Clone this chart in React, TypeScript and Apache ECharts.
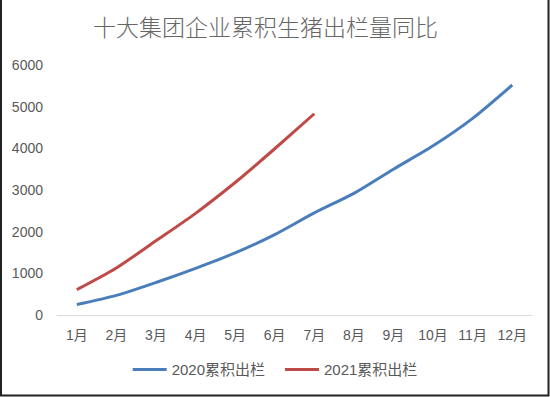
import React, { useEffect, useRef } from "react";
import * as echarts from "echarts";

const months = ["1月", "2月", "3月", "4月", "5月", "6月", "7月", "8月", "9月", "10月", "11月", "12月"];
const yTicks = [0, 1000, 2000, 3000, 4000, 5000, 6000];
const cum2020 = [250, 470, 780, 1120, 1490, 1930, 2450, 2920, 3500, 4060, 4720, 5520];
const cum2021 = [610, 1130, 1780, 2440, 3180, 3990, 4830];
const seriesNames = ["2020累积出栏", "2021累积出栏"];
const colors = ["#4a7ebb", "#be4b48"];

const FONT = "'Liberation Sans', 'Noto Sans CJK SC', sans-serif";

export default function App() {
  const ref = useRef<HTMLDivElement>(null);
  useEffect(() => {
    if (!ref.current) return;
    const chart = echarts.init(ref.current, undefined, { renderer: "svg" });
    chart.setOption({
      animation: false,
      backgroundColor: "#ffffff",
      title: {
        text: "十大集团企业累积生猪出栏量同比",
        left: 88,
        top: 9,
        textStyle: { fontSize: 23, fontWeight: 300, color: "#666666", fontFamily: "'Noto Sans CJK SC', sans-serif" },
      },
      grid: { left: 57, right: 18, top: 65, bottom: 82 },
      legend: {
        bottom: 15,
        left: "center",
        icon: "rect",
        itemWidth: 34,
        itemHeight: 3,
        itemGap: 20,
        textStyle: { fontSize: 15, color: "#595959", fontFamily: FONT },
        data: seriesNames,
      },
      xAxis: {
        type: "category",
        data: months,
        boundaryGap: true,
        axisLine: { lineStyle: { color: "#d9d9d9", width: 1 } },
        axisTick: { show: false },
        axisLabel: { color: "#595959", fontSize: 14, margin: 13, fontFamily: FONT },
      },
      yAxis: {
        type: "value",
        min: yTicks[0],
        max: yTicks[yTicks.length - 1],
        interval: 1000,
        axisLine: { show: false },
        axisTick: { show: false },
        splitLine: { show: false },
        axisLabel: {
          color: "#595959",
          fontSize: 14,
          margin: 14,
          fontFamily: FONT,
          formatter: (v: number) => String(v),
        },
      },
      series: [
        {
          name: seriesNames[0],
          type: "line",
          data: cum2020,
          showSymbol: false,
          smooth: 0.25,
          lineStyle: { color: colors[0], width: 3 },
          itemStyle: { color: colors[0] },
        },
        {
          name: seriesNames[1],
          type: "line",
          data: cum2021,
          showSymbol: false,
          smooth: 0.25,
          lineStyle: { color: colors[1], width: 3 },
          itemStyle: { color: colors[1] },
        },
      ],
      graphic: [
        {
          type: "polyline",
          shape: { points: [[1, 0], [1, 395.5], [548.5, 395.5], [548.5, 0]] },
          style: { stroke: "#222222", fill: null, lineWidth: 2 },
        },
      ],
    });
    return () => chart.dispose();
  }, []);
  return (
    <div
      ref={ref}
      style={{ position: "fixed", left: 0, top: 0, width: 550, height: 397 }}
    />
  );
}
